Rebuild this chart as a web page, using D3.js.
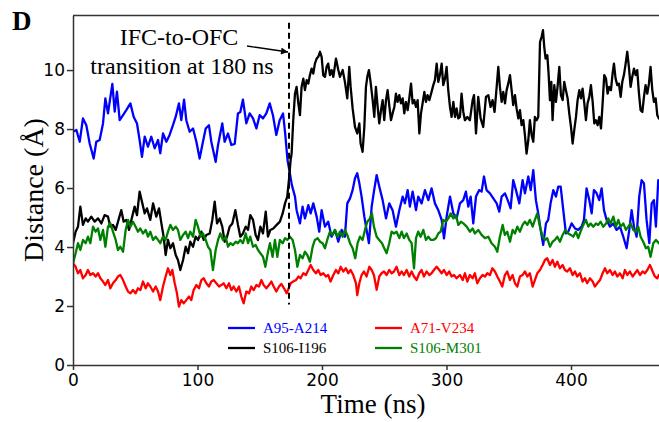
<!DOCTYPE html>
<html>
<head>
<meta charset="utf-8">
<script src="https://cdn.jsdelivr.net/npm/d3@7"></script>
<style>
  body { margin: 0; background: #fff; }
  .axis text { font-family: "DejaVu Sans", sans-serif; font-size: 17px; fill: #000; }
  .axis path, .axis line { stroke: #333; stroke-width: 1.5; }
</style>
</head>
<body>
<div id="chart"></div>
<script>
// series: [time (ns), distance (Å)]
var a95a214 = [[0,7.91],[2.7,7.97],[5.4,7.57],[8,8.36],[10.7,8.13],[13.4,7.51],[16.6,7.0],[18.7,7.57],[21.4,7.63],[24.1,8.19],[26,9.04],[28.1,8.53],[31.6,9.53],[33.5,8.59],[35.3,9.27],[37.5,8.3],[40.2,8.47],[42.8,8.64],[46.1,8.87],[48.7,8.42],[51.4,8.19],[53.5,7.63],[55.4,7.06],[57.6,7.74],[60.2,7.4],[62.9,7.74],[65.6,7.35],[68.3,7.63],[70.1,7.18],[72.3,7.85],[75,7.57],[77.6,7.8],[80.3,8.13],[82.5,8.42],[85.1,8.87],[87,8.3],[89.2,9.0],[91,8.3],[93.7,7.91],[96.4,8.02],[99.1,7.57],[101.7,7.0],[104.4,7.57],[106.6,8.02],[109.2,8.13],[111.1,7.57],[114.6,6.89],[116.5,7.46],[119.9,8.19],[121.8,7.57],[124.5,7.85],[127.2,7.46],[129.9,7.5],[132.5,8.53],[134.4,8.58],[136.5,9.0],[139.2,8.19],[141.9,8.53],[144.6,8.36],[147.3,8.02],[149.9,8.47],[152.6,8.36],[155.3,8.53],[158,8.87],[160.6,8.47],[163.3,7.8],[166,8.3],[168.7,8.53],[170.4,7.86],[172.3,6.95],[174.2,6.5],[175.8,6.1],[178.3,5.71],[179.6,5.25],[182.3,4.8],[184.4,5.37],[186.3,4.97],[189,5.42],[190.9,5.14],[193,5.48],[195.7,5.03],[197.8,4.52],[199.7,5.25],[202.4,4.69],[205,4.86],[207.7,4.35],[210.4,4.58],[213.1,4.18],[215.8,4.58],[218.4,4.35],[220.3,5.48],[222.5,5.65],[224.6,5.93],[226.5,6.33],[228.3,6.5],[230,6.16],[231.8,5.71],[234,5.03],[235.8,4.58],[237.7,4.13],[239.9,5.37],[241.7,5.88],[243.9,6.44],[246,6.05],[248.7,5.59],[251.4,4.97],[254,5.48],[256.7,5.25],[259.4,4.69],[262.1,5.25],[264.8,5.71],[266.6,5.48],[268.8,5.93],[270.6,5.37],[272.8,5.88],[275.5,5.25],[277.3,5.71],[280,5.48],[282.7,5.93],[285.4,5.59],[288,5.99],[290.7,5.48],[293.4,5.25],[296.1,4.92],[298,4.29],[300.1,5.03],[302.8,5.71],[305.5,5.14],[308.1,4.97],[310.8,5.48],[313.5,5.59],[315.6,5.88],[317.5,5.37],[319.4,5.71],[321.5,4.8],[323.7,5.71],[326.3,5.93],[328.2,5.88],[330.1,6.39],[332.2,5.93],[334.9,5.82],[337.6,5.65],[340.3,5.48],[342.4,5.2],[344.3,5.71],[347,5.82],[349.6,5.54],[351.5,5.31],[353.6,6.27],[355.8,5.93],[358.5,5.48],[361.1,6.27],[363,5.82],[365.7,6.39],[367.6,5.93],[369.7,6.61],[371.8,5.59],[373.7,5.14],[375.6,4.58],[377.7,4.07],[379.9,4.8],[381.7,4.92],[383.6,5.48],[385.8,5.93],[387.9,5.71],[389.8,6.05],[391.7,6.05],[393.8,5.25],[395.9,4.46],[397.8,4.52],[400.5,4.8],[403.2,4.63],[405.8,4.58],[408.5,4.69],[410.4,4.92],[412.5,5.99],[414.7,5.59],[416.6,5.14],[418.4,5.93],[420.6,5.82],[422.7,5.59],[424.6,5.99],[426.5,5.25],[428.6,4.92],[431.3,4.69],[434,4.8],[436.6,4.58],[439.3,4.69],[442,4.35],[444.7,3.96],[446.8,4.58],[448.7,5.25],[450.6,4.69],[452.7,4.35],[454.8,5.71],[456.7,6.27],[458.6,6.16],[460.7,4.92],[462.9,4.13],[464.8,5.48],[466.6,5.59],[468.2,4.69],[470.1,6.27],[472,6.1]];

var s106i196 = [[0,4.13],[2.1,4.52],[4,4.69],[5.9,5.37],[8,4.75],[10.2,4.97],[12,4.86],[14.7,5.03],[17.4,4.86],[20.1,4.97],[22.8,4.8],[25.4,5.08],[28.1,5.03],[30,4.69],[32.1,4.75],[34.3,4.58],[36.9,4.97],[38.8,5.25],[40.7,4.86],[42.8,4.92],[45,4.58],[46.9,4.92],[49.5,5.37],[51.4,5.08],[53.5,5.88],[55.7,5.48],[57.6,5.14],[59.4,5.31],[62.1,4.92],[64.3,5.48],[66.9,5.03],[69.1,5.31],[71,4.8],[72.8,4.35],[74.4,3.73],[76.3,4.24],[78.2,3.96],[80.3,4.13],[82.5,3.73],[84.3,3.56],[86.2,3.22],[88.4,3.56],[90.5,4.01],[92.4,3.79],[94.2,4.18],[96.4,4.01],[98.5,4.35],[100.4,4.24],[103.1,4.52],[105,4.24],[107.1,4.41],[109.8,4.46],[111.9,4.92],[113.8,5.54],[115.7,4.8],[117.8,4.97],[119.9,4.69],[121.8,4.18],[123.7,4.35],[125.8,4.69],[128,4.8],[130.4,5.25],[132.5,4.75],[134.4,4.35],[136.5,4.46],[138.7,4.69],[140.6,4.58],[142.4,5.08],[144.6,4.92],[146.7,4.41],[148.6,4.24],[150.5,4.69],[152.6,4.46],[154.8,5.2],[156.6,4.35],[158.5,4.58],[160.9,4.63],[163.6,4.75],[166.2,4.86],[168.4,5.14],[170.3,5.48],[172.1,5.71],[173.7,6.39],[174.8,6.95],[175.6,7.17],[176.9,8.3],[178.3,9.2],[179.6,9.43],[181,8.87],[182.3,8.47],[183.6,9.43],[185,9.71],[186.3,9.32],[187.7,9.66],[189,9.54],[190.3,9.83],[191.7,10.05],[193,9.88],[194.3,10.22],[195.7,10.39],[197,10.45],[198.4,10.62],[199.7,10.45],[201,9.83],[202.4,9.77],[203.7,10.11],[205,10.22],[206.4,9.83],[207.7,10.0],[209.1,9.77],[211.2,10.39],[213.1,10.0],[214.4,9.77],[216.6,10.0],[218.4,9.6],[220.3,9.04],[221.9,10.11],[223,9.43],[224.6,8.7],[226.5,8.07],[228.3,7.85],[230,8.19],[231,7.51],[232.6,7.23],[234,8.07],[235.3,9.43],[236.4,9.77],[237.7,10.0],[239,9.6],[240.7,8.98],[242,8.41],[243.3,9.43],[244.7,8.75],[246,8.19],[247.4,8.64],[248.7,8.98],[250,8.3],[251.4,8.98],[252.7,9.32],[254,8.81],[255.4,8.3],[256.7,8.53],[258.1,8.75],[259.4,9.2],[260.7,8.92],[262.1,9.15],[263.4,8.87],[264.8,9.04],[266.1,8.53],[267.4,8.92],[268.8,8.64],[270.1,9.04],[271.5,9.54],[272.8,8.87],[274.1,8.98],[275.5,8.75],[276.8,8.98],[278.2,7.85],[279.5,8.53],[280.8,8.87],[282.2,9.26],[283.5,8.92],[284.8,9.15],[286.2,8.98],[288,9.26],[289.4,9.49],[290.7,9.66],[292.1,10.22],[293.4,9.6],[294.7,9.83],[296.1,10.22],[297.4,9.49],[298.8,9.71],[300.1,10.11],[301.4,9.32],[302.8,8.75],[304.1,8.41],[305.5,8.92],[306.8,8.41],[308.1,8.7],[309.5,8.36],[310.8,8.41],[312.1,9.2],[313.5,8.58],[314.8,8.3],[316.7,8.41],[318.8,8.3],[321,8.98],[322.1,9.15],[323.7,7.85],[325.5,9.09],[327.4,8.36],[329.5,8.07],[331.7,9.09],[333.6,9.15],[335.4,8.75],[337,8.98],[338.6,8.58],[340.3,9.43],[341.6,10.11],[342.9,9.43],[344.3,8.92],[345.6,9.26],[347,8.87],[348.3,9.32],[349.6,9.54],[351,9.83],[352.3,9.32],[353.6,8.81],[355,9.15],[356.3,8.7],[357.7,8.36],[359,8.64],[360.3,8.13],[361.7,8.3],[363,7.79],[364.3,7.17],[365.7,7.62],[367,8.3],[368.4,7.79],[369.7,7.57],[371,8.41],[372.4,8.3],[373.7,8.41],[375.1,10.95],[376.4,11.13],[377.5,11.35],[378.5,10.79],[379.6,10.39],[381,10.5],[382,9.88],[383.1,8.98],[384.2,9.6],[385.2,8.3],[386.6,9.49],[387.9,8.92],[389.2,9.43],[390.6,10.11],[391.9,9.15],[393.3,8.98],[394.6,9.6],[395.9,9.32],[397.3,9.04],[398.6,8.53],[400,8.07],[401.3,7.51],[402.6,7.96],[404,8.41],[405.3,8.98],[406.7,9.32],[408,9.04],[409.3,9.37],[410.7,8.87],[412,8.3],[413.3,8.87],[414.7,9.09],[416,9.49],[417.4,8.92],[418.7,8.19],[420,8.3],[421.4,8.13],[422.7,8.41],[424.1,8.02],[425.4,8.87],[426.7,9.83],[428.1,9.71],[429.4,9.2],[430.7,9.43],[432.1,9.32],[433.4,9.88],[434.5,10.22],[435.8,9.71],[437.2,9.49],[438.5,9.54],[439.9,9.09],[441.2,9.6],[442.5,9.83],[443.9,10.22],[445.2,10.62],[446.5,10.11],[447.9,9.43],[449.2,9.77],[450.6,10.05],[451.9,9.83],[453.2,10.0],[454.6,9.2],[455.9,8.64],[457.3,8.58],[458.6,9.09],[459.9,9.49],[461.3,9.2],[462.6,9.54],[463.9,10.11],[465.3,9.32],[466.6,8.92],[468,9.04],[469.3,8.47],[470.6,8.36],[472,8.4]];

var a71v234 = [[0,3.45],[2.1,3.33],[4,3.11],[5.9,3.22],[8,2.94],[10.2,3.05],[12,3.22],[13.9,3.05],[16.1,3.11],[18.2,3.0],[20.1,3.11],[22,2.94],[24.1,2.83],[26,2.71],[28.1,2.88],[30,2.6],[32.1,2.77],[34.3,2.88],[36.1,3.0],[38,3.05],[40.2,2.88],[42.3,2.66],[44.2,2.49],[46.1,2.43],[48.2,2.54],[50.3,2.43],[52.2,2.6],[54.1,2.54],[56.2,2.83],[58.4,2.6],[60.2,2.77],[62.1,2.66],[64.3,2.49],[66.4,2.66],[68.3,2.49],[70.1,2.2],[72.3,2.66],[74.4,3.0],[76.3,3.28],[78.2,3.05],[79.8,3.22],[81.7,2.77],[83.5,2.43],[85.1,1.98],[87,2.2],[88.9,2.09],[91,2.2],[93.2,2.32],[95,2.2],[96.9,2.54],[99.1,2.71],[101.2,2.6],[103.1,2.88],[105,2.94],[107.1,2.77],[109.2,2.66],[111.1,2.83],[113,2.88],[115.1,2.77],[117.3,2.66],[119.1,2.71],[121,2.77],[123.2,2.6],[125.3,2.77],[127.2,2.54],[129,2.66],[131.2,2.49],[133.3,2.66],[135.2,2.32],[137.1,2.09],[139.2,2.49],[141.4,2.43],[143.2,2.66],[145.1,2.54],[147.3,2.71],[149.4,2.66],[151.3,2.88],[153.1,2.71],[155.3,2.6],[157.4,2.71],[159.3,2.83],[161.2,2.66],[163.3,2.49],[165.5,2.66],[167.3,2.75],[169.5,2.6],[171.6,2.43],[174.8,2.77],[176.9,2.83],[179.1,2.88],[181,3.0],[182.8,2.94],[185,3.11],[187.1,3.05],[189,3.22],[190.9,3.39],[193,3.22],[195.1,3.11],[197,3.22],[198.9,3.05],[201,3.11],[203.2,3.0],[205,3.05],[206.9,2.83],[209.1,3.05],[211.2,3.22],[213.1,3.11],[215,3.33],[217.1,3.17],[219.2,3.28],[221.1,3.11],[223,3.22],[225.1,3.05],[227.3,2.77],[228.3,2.37],[230,2.77],[231.8,3.05],[233.7,3.17],[235.8,3.0],[238,3.33],[239.9,3.22],[241.7,3.05],[243.9,2.55],[246,3.0],[247.9,3.11],[249.8,3.17],[251.9,3.05],[254,3.22],[255.9,3.11],[257.8,3.17],[259.9,3.33],[262.1,3.05],[264,3.17],[265.8,3.05],[268,3.22],[270.1,3.0],[272,3.17],[273.9,3.0],[276,2.88],[278.1,3.11],[280,3.22],[281.9,3.0],[284,3.17],[286.2,3.05],[288,3.11],[289.9,3.22],[292.1,3.33],[294.2,3.22],[296.1,3.11],[298,3.22],[300.1,3.05],[302.2,3.17],[304.1,3.0],[306,3.05],[308.1,2.94],[310.8,3.05],[313,2.88],[314.8,3.11],[316.7,2.83],[318.8,3.05],[321,2.94],[322.8,3.11],[324.7,2.77],[326.9,2.94],[329,3.05],[330.9,3.0],[332.8,3.11],[334.9,3.05],[336.8,3.28],[338.9,3.17],[340.8,3.0],[342.9,2.83],[344.8,2.66],[346.9,3.05],[348.8,3.17],[351,2.88],[353.1,3.05],[355,2.77],[356.9,2.66],[359,3.0],[361.1,3.05],[363,3.17],[364.9,3.0],[367,3.11],[369.2,2.66],[371,2.88],[372.9,3.11],[375.1,3.22],[377.2,3.39],[379.1,3.56],[380.9,3.62],[383.1,3.39],[385.2,3.56],[387.1,3.33],[389,3.5],[391.1,3.28],[393.3,3.39],[395.1,3.22],[397,3.17],[399.2,3.28],[401.3,3.05],[403.2,3.17],[405,3.0],[407.2,3.11],[409.3,2.83],[411.2,2.94],[413,2.77],[415.2,2.94],[417.4,2.83],[419.2,2.66],[421.1,2.77],[423.3,2.88],[425.4,3.11],[427.3,3.28],[429.1,3.11],[431.3,3.22],[433.4,3.05],[435.3,3.17],[437.2,3.0],[439.3,3.11],[441.5,2.94],[443.3,3.22],[445.2,3.05],[447.3,3.17],[449.5,3.0],[451.4,3.11],[453.2,3.22],[455.4,3.05],[457.5,3.17],[459.4,3.11],[461.3,3.22],[463.4,3.39],[465.6,3.17],[467.4,3.0],[469.3,2.94],[470.6,3.05],[472,3.0]];

var s106m301 = [[0,3.45],[2.1,3.79],[4,4.13],[5.9,3.9],[8,4.24],[10.2,4.13],[12,4.35],[13.9,4.13],[16.1,4.69],[18.2,4.52],[20.1,4.63],[22,4.24],[24.1,4.58],[26,4.01],[28.1,4.69],[30,4.8],[32.1,4.52],[34.3,4.24],[36.1,3.9],[38,4.01],[40.2,3.84],[42.3,4.58],[44.2,4.92],[46.1,4.69],[48.2,4.86],[50.3,4.69],[52.2,4.52],[54.1,4.63],[56.2,4.46],[58.4,4.58],[60.2,4.35],[62.1,4.52],[64.3,4.24],[66.4,4.35],[68.3,4.24],[70.1,4.13],[72.3,4.35],[74.4,4.24],[76.3,4.52],[78.2,4.75],[80.3,4.58],[82.5,4.69],[84.3,4.58],[86.2,4.24],[88.4,4.41],[90.5,4.52],[92.4,4.3],[94.2,4.52],[96.4,4.35],[98.5,4.92],[100.4,4.69],[102.5,4.35],[104.4,4.46],[106.6,4.24],[108.4,4.01],[110.3,3.9],[112.4,3.22],[114.6,3.9],[116.5,4.24],[118.3,4.46],[120.5,4.24],[122.6,4.35],[124.5,4.01],[126.4,4.13],[128.5,4.07],[130.7,4.18],[132.5,4.13],[134.4,4.24],[136.5,4.13],[138.7,4.46],[140.6,4.13],[142.4,4.35],[144.6,4.01],[146.7,4.07],[148.6,3.9],[150.5,3.79],[152.6,3.67],[154.5,3.33],[156.4,3.79],[158.2,4.13],[160.3,3.67],[162.2,4.24],[164.1,3.67],[166.2,4.24],[168.4,4.13],[170.3,4.3],[172.1,4.24],[174.3,4.35],[176.4,4.24],[178.3,3.9],[180.2,3.33],[182.3,3.73],[184.4,3.62],[186.3,3.84],[188.2,3.73],[190.3,3.5],[192.5,4.01],[194.3,4.24],[196.5,4.3],[198.4,4.18],[200.5,4.13],[202.4,3.96],[204.2,4.24],[206.4,4.52],[208.5,4.41],[210.4,4.58],[212.6,4.35],[214.4,4.52],[216.6,4.35],[218.4,4.58],[220.3,4.41],[222.5,4.13],[224.6,3.96],[226.7,3.62],[228.6,4.13],[230.5,4.35],[232.6,4.24],[234.5,4.58],[236.4,4.86],[238.5,4.97],[240.1,5.14],[241.7,4.69],[243.9,4.35],[246,4.24],[248.2,4.13],[250,3.96],[251.9,3.79],[254,4.13],[255.9,4.52],[257.8,4.46],[259.9,4.52],[262.1,4.3],[264,4.52],[265.8,4.3],[268,4.46],[270.1,4.24],[272,4.13],[273.9,3.28],[275.5,4.3],[277.3,4.52],[279.2,4.35],[281.4,4.58],[283.5,4.24],[285.4,4.35],[287.5,4.24],[289.4,4.24],[291.5,4.3],[293.4,4.46],[295.3,4.52],[297.4,4.92],[299.6,4.86],[301.4,4.97],[303.3,5.14],[305.5,4.97],[307.6,5.08],[309.5,4.75],[311.6,4.86],[313.5,4.8],[316.2,4.69],[318.8,4.52],[321,4.63],[322.8,4.46],[325.5,4.58],[328.2,4.41],[330.9,4.3],[333.6,4.35],[336.2,4.13],[338.9,4.01],[340.8,3.84],[342.9,4.35],[345.1,4.75],[346.9,4.41],[348.8,4.52],[351,4.18],[353.1,4.58],[355,4.46],[356.9,4.69],[359,4.52],[361.1,4.75],[363,4.86],[364.9,4.75],[367,4.92],[369.2,4.69],[371,4.92],[372.9,5.14],[375.1,4.69],[377.2,4.35],[379.1,4.24],[380.9,4.3],[383.1,4.01],[385.2,4.18],[387.1,4.24],[389,4.35],[391.1,4.18],[393.3,4.41],[395.4,4.58],[397.8,4.46],[399.9,4.41],[401.8,4.35],[403.9,4.52],[405.8,4.3],[407.7,4.52],[409.9,4.75],[412,4.92],[413.9,4.69],[415.8,4.8],[417.9,4.69],[420,4.8],[421.9,4.75],[423.8,4.86],[425.9,4.69],[428.1,4.8],[429.9,4.97],[431.8,4.8],[434,5.03],[436.1,4.69],[438,4.92],[439.8,4.69],[442,4.8],[444.1,4.58],[446,4.69],[447.9,4.8],[450,4.58],[452.2,4.52],[454,4.69],[455.9,4.35],[458,4.18],[460.2,3.96],[462,4.01],[463.9,3.67],[466.1,4.13],[468.2,4.24],[470.6,4.13],[472,4.1]];

var seriesNames  = ["A95-A214", "S106-I196", "A71-V234", "S106-M301"];
var seriesColors = ["#0000ff", "#000000", "#ff0000", "#008000"];
var yTicks = [0, 2, 4, 6, 8, 10];
var xTicks = [0, 100, 200, 300, 400];
var transitionAt = 173.5; // where the dashed line is drawn

var margin = {top: 15.5, left: 73};
var width = 659, height = 422;
var plotBottom = 365;

var svg = d3.select("#chart").append("svg")
    .attr("width", width)
    .attr("height", height);

var x = d3.scaleLinear()
    .domain([0, 500])
    .range([margin.left, margin.left + 622.5]);

var y = d3.scaleLinear()
    .domain([0, 11.85])
    .range([plotBottom, margin.top]);

svg.append("defs").append("clipPath")
    .attr("id", "plotclip")
    .append("rect")
    .attr("x", margin.left).attr("y", margin.top)
    .attr("width", width - margin.left).attr("height", plotBottom - margin.top);

// top spine
svg.append("line")
    .attr("x1", margin.left).attr("x2", width)
    .attr("y1", margin.top).attr("y2", margin.top)
    .attr("stroke", "#333").attr("stroke-width", 1.5);

var line = d3.line()
    .x(function(d) { return x(d[0]); })
    .y(function(d) { return y(d[1]); });

var allSeries = [a95a214, s106i196, a71v234, s106m301];

svg.append("g")
    .attr("clip-path", "url(#plotclip)")
    .selectAll("path")
    .data(allSeries)
    .enter().append("path")
    .attr("d", line)
    .attr("fill", "none")
    .attr("stroke", function(d, i) { return seriesColors[i]; })
    .attr("stroke-width", 2.3)
    .attr("stroke-linejoin", "round");

// transition marker
svg.append("line")
    .attr("x1", x(transitionAt)).attr("x2", x(transitionAt))
    .attr("y1", y(11.6)).attr("y2", y(2.05))
    .attr("stroke", "#000")
    .attr("stroke-width", 2)
    .attr("stroke-dasharray", "6,4");

svg.append("defs").append("marker")
    .attr("id", "arrowhead")
    .attr("viewBox", "0 0 10 10")
    .attr("refX", 10).attr("refY", 5)
    .attr("markerWidth", 9).attr("markerHeight", 7)
    .attr("markerUnits", "userSpaceOnUse")
    .attr("orient", "auto")
    .append("path")
    .attr("d", "M0,0 L10,5 L0,10 z")
    .attr("fill", "#000");

svg.append("line")
    .attr("x1", 247).attr("y1", 46)
    .attr("x2", x(transitionAt) - 1).attr("y2", 52)
    .attr("stroke", "#000")
    .attr("stroke-width", 1.3)
    .attr("marker-end", "url(#arrowhead)");

var note = svg.append("text")
    .attr("text-anchor", "middle")
    .style("font-family", "'Liberation Serif', 'Times New Roman', serif")
    .style("font-size", "24px");
note.append("tspan").attr("x", 179).attr("y", 45).text("IFC-to-OFC");
note.append("tspan").attr("x", 182).attr("y", 74).text("transition at 180 ns");

// axes
svg.append("g")
    .attr("class", "axis")
    .attr("transform", "translate(0," + plotBottom + ")")
    .call(d3.axisBottom(x).tickValues(xTicks).tickSize(5).tickSizeOuter(0).tickPadding(4));

svg.append("g")
    .attr("class", "axis")
    .attr("transform", "translate(" + margin.left + ",0)")
    .call(d3.axisLeft(y).tickValues(yTicks).tickSize(6).tickSizeOuter(0).tickPadding(2));

// axis titles
svg.append("text")
    .attr("text-anchor", "middle")
    .attr("transform", "translate(43,190)rotate(-90)")
    .style("font-family", "'Liberation Serif', 'Times New Roman', serif")
    .style("font-size", "28px")
    .text("Distance (Å)");

svg.append("text")
    .attr("text-anchor", "middle")
    .attr("x", 373).attr("y", 413)
    .style("font-family", "'Liberation Serif', 'Times New Roman', serif")
    .style("font-size", "27px")
    .text("Time (ns)");

svg.append("text")
    .attr("x", 12).attr("y", 30)
    .style("font-family", "'Liberation Serif', 'Times New Roman', serif")
    .style("font-size", "27px")
    .style("font-weight", "bold")
    .text("D");

// legend, two columns
var legendPos = [[228, 328], [228, 348], [375, 328], [375, 348]];
var legend = svg.append("g").selectAll("g")
    .data(seriesNames)
    .enter().append("g")
    .attr("transform", function(d, i) { return "translate(" + legendPos[i][0] + "," + legendPos[i][1] + ")"; });

legend.append("line")
    .attr("x1", 0).attr("x2", 27)
    .attr("stroke", function(d, i) { return seriesColors[i]; })
    .attr("stroke-width", 2.3);

legend.append("text")
    .attr("x", 35).attr("y", 5)
    .style("font-family", "'Liberation Serif', 'Times New Roman', serif")
    .style("font-size", "15px")
    .attr("fill", function(d, i) { return seriesColors[i]; })
    .text(function(d) { return d; });
</script>
</body>
</html>
